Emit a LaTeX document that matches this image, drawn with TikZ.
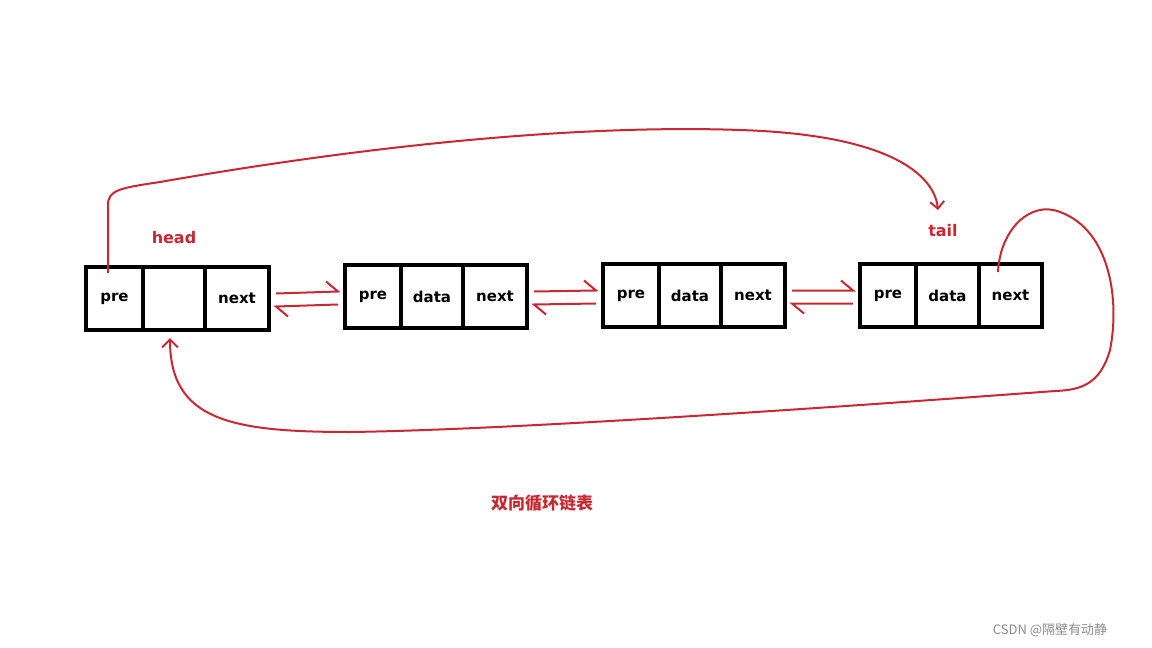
\documentclass[tikz,border=0pt]{standalone}
\usepackage{fontspec}
\setmainfont{DejaVu Sans}
\newfontfamily\cjk{Noto Sans CJK SC}
\usetikzlibrary{arrows.meta}
\definecolor{rd}{RGB}{200,40,50}
\tikzset{x=1pt,y=-1pt,
 cell/.style={draw=black,line width=4pt,minimum height=63pt,inner sep=0pt,font=\bfseries\fontsize{15}{15}\selectfont,anchor=north west},
 redline/.style={draw=rd,line width=2pt},
 lbl/.style={text=rd,font=\bfseries\fontsize{16}{16}\selectfont}}
\begin{document}
\begin{tikzpicture}
\useasboundingbox (0,0) rectangle (1152,648);
% node 1
\node[cell,minimum width=57pt] (a1) at (84,265) {pre};
\node[cell,minimum width=62pt] (a2) at (141,265) {};
\node[cell,minimum width=64pt] (a3) at (203,265) {next};
% node 2
\node[cell,minimum width=56pt] (b1) at (343,263) {pre};
\node[cell,minimum width=62pt] (b2) at (399,263) {data};
\node[cell,minimum width=64pt] (b3) at (461,263) {next};
% node 3
\node[cell,minimum width=56pt] (c1) at (601,262) {pre};
\node[cell,minimum width=62pt] (c2) at (657,262) {data};
\node[cell,minimum width=64pt] (c3) at (719,262) {next};
% node 4
\node[cell,minimum width=56pt] (d1) at (858,262) {pre};
\node[cell,minimum width=63pt] (d2) at (914,262) {data};
\node[cell,minimum width=63pt] (d3) at (977,262) {next};
% harpoon arrows
\foreach \l/\r/\y in {a3/b1/0,b3/c1/-1,c3/d1/-1}{
 \coordinate (t1) at ([xshift=5pt,yshift=5pt]\l.east);
 \coordinate (t2) at ([xshift=-5pt,yshift=5pt]\r.west);
 \draw[redline] (t1) -- (t2) -- ++(-12,-10);
 \coordinate (u1) at ([xshift=5pt,yshift=-8pt]\l.east);
 \coordinate (u2) at ([xshift=-5pt,yshift=-8pt]\r.west);
 \draw[redline] (u2) -- (u1) -- ++(12,10);
}
\node[lbl] (head) at (174,238) {head};
\node[lbl] (tail) at (943,231) {tail};
\coordinate (s1) at (108,273);
\coordinate (e1) at (938,210);
\draw[redline,-{Straight Barb[length=7pt,width=14pt]}] (s1) -- (108,205) .. controls (108,190) and (120,188) .. (160,182)
 .. controls (400,140) and (600,125) .. (740,130) .. controls (900,135) and (935,180) .. (e1);
\coordinate (s2) at (998,272);
\coordinate (e2) at (170,338);
\draw[redline,-{Straight Barb[length=8pt,width=16pt]}] (s2) .. controls (1000,230) and (1030,200) .. (1060,212)
 .. controls (1110,230) and (1120,300) .. (1110,350) .. controls (1100,385) and (1080,390) .. (1055,391)
 .. controls (800,410) and (500,430) .. (350,432) .. controls (230,432) and (170,420) .. (e2);
\node[text=rd,font=\cjk\bfseries\fontsize{17}{17}\selectfont] (title) at (542,503) {双向循环链表};
\node[text=black!45,font=\cjk\fontsize{13}{13}\selectfont] (wm) at (1050,630) {CSDN @隔壁有动静};
\end{tikzpicture}
\end{document}
